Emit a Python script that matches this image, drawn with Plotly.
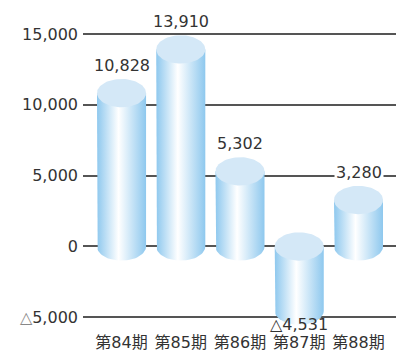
import numpy as np
import plotly.graph_objects as go

categories = ["第84期", "第85期", "第86期", "第87期", "第88期"]
values = [10828, 13910, 5302, -4531, 3280]
value_labels = ["10,828", "13,910", "5,302", "△4,531", "3,280"]
tick_vals = [15000, 10000, 5000, 0, -5000]
tick_text = ["15,000", "10,000", "5,000", "0", "<span style='color:#888'>△</span>5,000"]

FONT = "DejaVu Sans, Noto Sans CJK JP, sans-serif"
HALF_W = 0.414      # half bar width in category units
ELL_H = 1000        # ellipse half-height in value units
BODY_COL = "#8ec8ee"
TOP_COL = "#d4e8f7"

fig = go.Figure()
t_low = np.linspace(np.pi, 2 * np.pi, 40)
t_full = np.linspace(0, 2 * np.pi, 80)

for i, v in enumerate(values):
    top = max(0, v)
    bot = min(0, v)
    xs = [i - HALF_W] + list(i + HALF_W * np.cos(t_low)) + [i + HALF_W, i - HALF_W]
    ys = [top] + list(bot + ELL_H * np.sin(t_low)) + [top, top]
    fig.add_trace(go.Scatter(
        x=xs, y=ys, mode="lines", fill="toself", line=dict(width=0),
        fillgradient=dict(type="horizontal",
                          colorscale=[[0, BODY_COL], [0.44, "#ffffff"], [1, BODY_COL]]),
        hoverinfo="skip", showlegend=False))
    fig.add_trace(go.Scatter(
        x=i + HALF_W * np.cos(t_full), y=top + ELL_H * np.sin(t_full),
        mode="lines", fill="toself", fillcolor=TOP_COL, line=dict(width=0),
        hoverinfo="skip", showlegend=False))

for i, (v, lab) in enumerate(zip(values, value_labels)):
    neg = v < 0
    fig.add_annotation(
        x=i, y=v, text=lab, showarrow=False, xanchor="center", yanchor="middle",
        yshift=-14 if neg else 28,
        font=dict(family=FONT, size=16, color="#333333"),
        bgcolor="white" if i == 4 else None, borderpad=1)

fig.update_layout(
    width=396, height=354,
    margin=dict(l=83, r=0, t=0, b=23),
    plot_bgcolor="white", paper_bgcolor="white",
    xaxis=dict(range=[-0.65, 4.633], tickvals=list(range(len(categories))),
               ticktext=categories, showgrid=False, zeroline=False, showline=False,
               ticks="", tickfont=dict(family=FONT, size=16, color="#333333"),
               automargin=False, ticklabelstandoff=0, fixedrange=True),
    yaxis=dict(range=[-5967, 17400], tickvals=tick_vals, ticktext=tick_text,
               showgrid=True, gridcolor="#555555", gridwidth=1.5, zeroline=False,
               showline=False, ticks="", ticklabelstandoff=4, automargin=False,
               tickfont=dict(family=FONT, size=16, color="#333333"), fixedrange=True),
)

fig.write_html("out.html")
